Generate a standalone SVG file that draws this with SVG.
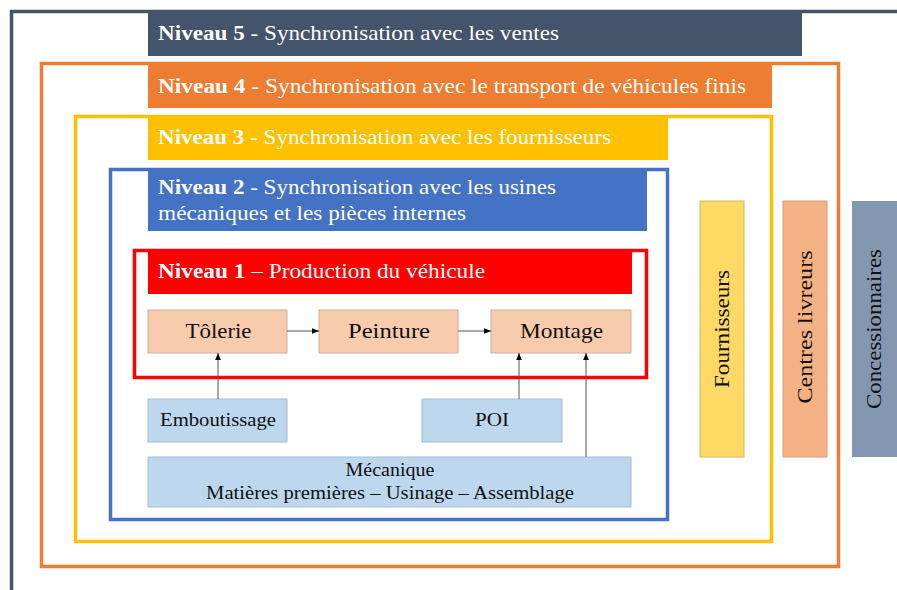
<svg xmlns="http://www.w3.org/2000/svg" width="897" height="590" viewBox="0 0 897 590">
<defs>
<marker id="ah" viewBox="0 0 10 10" refX="10" refY="5" markerWidth="7" markerHeight="7" markerUnits="userSpaceOnUse" orient="auto"><path d="M0,1 L10,5 L0,9 z" fill="#000"/></marker>
</defs>
<style>
.t{font-family:"Liberation Serif","DejaVu Serif",serif;}
.hd{font-size:21.5px;fill:#fff;}
.b{font-weight:bold;}
.bx{font-size:21px;fill:#111;text-anchor:middle;}
.sm{font-size:19.5px;fill:#111;text-anchor:middle;}
.fr{fill:none;stroke-width:3.5;}
.proc{fill:#F8CBAD;stroke:#c8b0a0;stroke-width:1;}
.sup{fill:#BDD7EE;stroke:#a8bccb;stroke-width:1;}
.cn{stroke:#555;stroke-width:1;fill:none;marker-end:url(#ah);}
.vt{font-size:21px;fill:#111;text-anchor:middle;}
</style>
<rect width="897" height="590" fill="#fff"/>
<g id="niveau5">
<path d="M11.5,590 L11.5,11.5 L897,11.5" class="fr" stroke="#44546A"/>
<rect x="148" y="12" width="654" height="44" fill="#44546A"/>
<text class="t hd" x="158" y="40" textLength="401" lengthAdjust="spacingAndGlyphs"><tspan class="b">Niveau 5</tspan> - Synchronisation avec les ventes</text>
</g>
<g id="niveau4">
<rect x="41.5" y="63.5" width="797" height="503" class="fr" stroke="#ED7D31"/>
<rect x="148" y="65" width="624" height="43" fill="#ED7D31"/>
<text class="t hd" x="158" y="93" textLength="588" lengthAdjust="spacingAndGlyphs"><tspan class="b">Niveau 4</tspan> - Synchronisation avec le transport de véhicules finis</text>
</g>
<g id="niveau3">
<rect x="75.5" y="116.5" width="696" height="425" class="fr" stroke="#FFC000"/>
<rect x="148" y="118" width="520" height="42" fill="#FFC000"/>
<text class="t hd" x="158" y="144" textLength="453" lengthAdjust="spacingAndGlyphs"><tspan class="b">Niveau 3</tspan> - Synchronisation avec les fournisseurs</text>
</g>
<g id="niveau2">
<rect x="110.5" y="169.5" width="557" height="350" class="fr" stroke="#4472C4"/>
<rect x="148" y="171" width="499" height="60" fill="#4472C4"/>
<text class="t hd" x="158" y="194" textLength="398" lengthAdjust="spacingAndGlyphs"><tspan class="b">Niveau 2</tspan> - Synchronisation avec les usines</text>
<text class="t hd" x="158" y="220" textLength="308" lengthAdjust="spacingAndGlyphs">mécaniques et les pièces internes</text>
</g>
<g id="niveau1">
<rect x="134.5" y="250.5" width="512" height="127" class="fr" stroke="#FF0000"/>
<rect x="148" y="252" width="484" height="42" fill="#FF0000"/>
<text class="t hd" x="158" y="278" textLength="327" lengthAdjust="spacingAndGlyphs"><tspan class="b">Niveau 1</tspan> – Production du véhicule</text>
</g>
<g id="tolerie"><rect x="148" y="310" width="139" height="43" class="proc"/><text class="t bx" x="218.5" y="338" textLength="66" lengthAdjust="spacingAndGlyphs">Tôlerie</text></g>
<g id="peinture"><rect x="319" y="310" width="139" height="43" class="proc"/><text class="t bx" x="389" y="338" textLength="82" lengthAdjust="spacingAndGlyphs">Peinture</text></g>
<g id="montage"><rect x="491" y="310" width="140" height="43" class="proc"/><text class="t bx" x="561.5" y="338" textLength="83" lengthAdjust="spacingAndGlyphs">Montage</text></g>
<g id="emboutissage"><rect x="148" y="399" width="139" height="43" class="sup"/><text class="t sm" x="218" y="426" textLength="116" lengthAdjust="spacingAndGlyphs">Emboutissage</text></g>
<g id="poi"><rect x="422" y="399" width="140" height="43" class="sup"/><text class="t sm" x="492" y="426" textLength="34" lengthAdjust="spacingAndGlyphs">POI</text></g>
<g id="mecanique"><rect x="148" y="457" width="483" height="50" class="sup"/><text class="t sm" x="390" y="476" textLength="89" lengthAdjust="spacingAndGlyphs">Mécanique</text><text class="t sm" x="390" y="499" textLength="368" lengthAdjust="spacingAndGlyphs">Matières premières – Usinage – Assemblage</text></g>
<g id="fournisseurs"><rect x="700" y="201" width="44" height="256" fill="#FFD966" stroke="#d0b860" stroke-width="1"/><text class="t vt" transform="translate(729,329) rotate(-90)" textLength="118" lengthAdjust="spacingAndGlyphs">Fournisseurs</text></g>
<g id="centres"><rect x="783" y="201" width="44" height="256" fill="#F4B183" stroke="#d4a080" stroke-width="1"/><text class="t vt" transform="translate(812,327) rotate(-90)" textLength="153" lengthAdjust="spacingAndGlyphs">Centres livreurs</text></g>
<g id="concessionnaires"><rect x="852" y="201" width="45" height="256" fill="#8497B0"/><text class="t vt" transform="translate(881,329) rotate(-90)" textLength="160" lengthAdjust="spacingAndGlyphs">Concessionnaires</text></g>
<g id="connectors">
<line x1="287" y1="331" x2="319" y2="331" class="cn"/>
<line x1="458" y1="331" x2="491" y2="331" class="cn"/>
<line x1="218" y1="399" x2="218" y2="353" class="cn"/>
<line x1="519" y1="399" x2="519" y2="353" class="cn"/>
<line x1="586" y1="457" x2="586" y2="353" class="cn"/>
</g>
</svg>
